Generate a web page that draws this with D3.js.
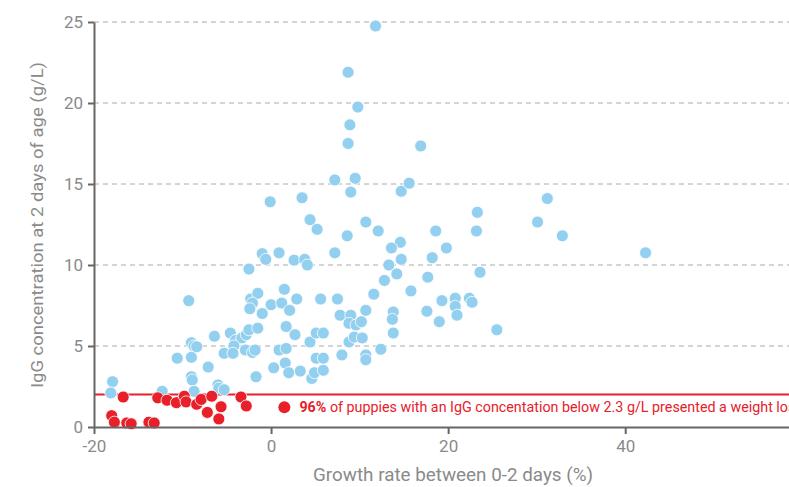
<!DOCTYPE html>
<html>
<head>
<meta charset="utf-8">
<script src="https://cdn.jsdelivr.net/npm/d3@7"></script>
<style>
  body { margin: 0; background: #fff; }
  svg { display: block; font-family: Roboto, "Noto Sans", sans-serif; }
</style>
</head>
<body>
<script>
// growth rate (%) / IgG (g/L) for puppies above the threshold
const blueGrowth = [11.8, 8.7, 9.8, 8.9, 8.7, 16.9, 7.2, 9.5, 9.0, 14.7, 15.6, -0.1, 3.5, 31.2, 4.4, 5.2, 30.1, 10.7, 12.1, 23.3,
  23.2, 18.6, 32.9, 8.6, 14.6, 13.6, 19.8, 0.9, -1.0, -0.6, 2.6, 3.8, 4.1, 7.2, 14.7, 13.3, 18.2, 42.3, 23.6, -2.5,
  14.2, 12.8, 15.8, 11.6, 17.7, -9.3, -2.3, -1.5, -2.1, -2.4, -1.0, 0.0, 1.2, 1.5, 2.1, 2.9, 5.6, 7.5, 7.8, 9.0,
  8.8, 9.6, 10.2, 10.7, 8.8, 9.4, 10.3, 8.0, 10.7, 10.7, 12.4, 13.8, 13.7, 13.8, 17.6, 19.0, 19.3, 20.8, 20.8, 21.0,
  22.4, 22.7, 25.5, -6.4, -4.6, -4.0, -3.3, -2.8, -4.2, -2.5, -1.5, 1.7, 2.7, 4.4, 5.1, 5.9, -2.9, -2.1, -1.8, -5.3,
  -4.3, -9.0, -8.7, -8.4, -9.0, -10.6, -7.1, -9.0, -8.9, -6.0, -5.9, -5.3, -8.7, -12.3, -17.9, -18.1, -1.7, 0.3, 0.9, 1.7,
  1.6, 2.0, 3.3, 4.6, 4.9, 5.9, 5.1, 5.9];
const blueIgG = [24.75, 21.9, 19.75, 18.65, 17.5, 17.35, 15.25, 15.35, 14.5, 14.55, 15.05, 13.9, 14.15, 14.1, 12.8, 12.2, 12.65, 12.65, 12.1, 13.25,
  12.1, 12.1, 11.8, 11.8, 11.4, 11.05, 11.05, 10.75, 10.7, 10.35, 10.3, 10.35, 10.0, 10.75, 10.35, 10.0, 10.45, 10.75, 9.55, 9.75,
  9.45, 9.05, 8.4, 8.2, 9.25, 7.8, 7.9, 8.25, 7.65, 7.3, 7.0, 7.55, 7.65, 8.5, 7.2, 7.9, 7.9, 7.9, 6.9, 6.9,
  6.4, 6.3, 6.5, 7.2, 5.25, 5.55, 5.5, 4.45, 4.45, 4.15, 4.8, 7.1, 6.65, 5.8, 7.15, 6.5, 7.8, 7.95, 7.45, 6.9,
  7.95, 7.7, 6.0, 5.6, 5.8, 5.35, 5.5, 5.7, 5.0, 6.0, 6.1, 6.2, 5.7, 5.25, 5.8, 5.8, 4.75, 4.6, 4.75, 4.55,
  4.55, 5.2, 5.0, 4.95, 4.3, 4.25, 3.7, 3.1, 2.9, 2.6, 2.4, 2.3, 2.2, 2.2, 2.8, 2.1, 3.1, 3.65, 4.75, 4.85,
  3.95, 3.35, 3.45, 3.0, 3.35, 3.5, 4.25, 4.25];

// puppies below the threshold
const redGrowth = [-16.7, -18.0, -17.7, -16.3, -15.8, -13.8, -13.2, -12.8, -11.75, -10.7, -9.8, -9.6, -8.4, -7.9, -7.2, -6.7, -5.65, -5.9, -3.4, -2.8];
const redIgG = [1.85, 0.7, 0.3, 0.25, 0.2, 0.3, 0.25, 1.8, 1.65, 1.5, 1.9, 1.55, 1.4, 1.7, 0.9, 1.9, 1.25, 0.5, 1.85, 1.3];

const threshold = 2;
const xTicks = [-20, 0, 20, 40];
const yTicks = [0, 5, 10, 15, 20, 25];

const w = 789;
const h = 487;

const blue = "#93cfef";
const red = "#e8202a";
const axisColor = "#666";
const labelColor = "#8a8a8a";

const xScale = d3.scaleLinear()
  .domain([-20, 58.5])
  .range([94, 789]);

const yScale = d3.scaleLinear()
  .domain([0, 25])
  .range([427, 22]);

const svg = d3.select("body")
  .append("svg")
  .attr("width", w)
  .attr("height", h);

// dashed grid
svg.append("g")
  .selectAll("line")
  .data(yTicks.filter(d => d > 0))
  .enter()
  .append("line")
  .attr("x1", xScale(-20))
  .attr("x2", w)
  .attr("y1", d => yScale(d))
  .attr("y2", d => yScale(d))
  .attr("stroke", "#aaa")
  .attr("stroke-width", 1)
  .attr("stroke-dasharray", "5,4");

// threshold line
svg.append("line")
  .attr("x1", xScale(-20))
  .attr("x2", w)
  .attr("y1", yScale(threshold))
  .attr("y2", yScale(threshold))
  .attr("stroke", red)
  .attr("stroke-width", 2);

const blueData = blueGrowth.map((g, i) => ({ g: g, v: blueIgG[i] }));
const redData = redGrowth.map((g, i) => ({ g: g, v: redIgG[i] }));

svg.append("g")
  .selectAll("circle")
  .data(blueData)
  .enter()
  .append("circle")
  .attr("cx", d => xScale(d.g))
  .attr("cy", d => yScale(d.v))
  .attr("r", 6)
  .attr("fill", blue)
  .attr("stroke", "#fff")
  .attr("stroke-width", 0.8);

svg.append("g")
  .selectAll("circle")
  .data(redData)
  .enter()
  .append("circle")
  .attr("cx", d => xScale(d.g))
  .attr("cy", d => yScale(d.v))
  .attr("r", 6)
  .attr("fill", red)
  .attr("stroke", "#fff")
  .attr("stroke-width", 0.8);

// axes
const xAxis = d3.axisBottom(xScale)
  .tickValues(xTicks)
  .tickSize(7)
  .tickSizeOuter(0)
  .tickPadding(6);

const yAxis = d3.axisLeft(yScale)
  .tickValues(yTicks)
  .tickSize(6)
  .tickSizeOuter(0)
  .tickPadding(5);

const gx = svg.append("g")
  .attr("transform", "translate(0," + yScale(0) + ")")
  .call(xAxis);

const gy = svg.append("g")
  .attr("transform", "translate(" + xScale(-20) + ",0)")
  .call(yAxis);

[gx, gy].forEach(g => {
  g.select(".domain").attr("stroke", axisColor).attr("stroke-width", 2);
  g.selectAll(".tick line").attr("stroke", axisColor).attr("stroke-width", 2);
  g.selectAll(".tick text")
    .attr("fill", labelColor)
    .style("font-size", "17px")
    .style("font-family", "Roboto, sans-serif");
});

gx.selectAll(".tick text").text(d => d < 0 ? "-" + Math.abs(d) : d);

// axis titles
svg.append("text")
  .attr("x", 453)
  .attr("y", 481)
  .attr("text-anchor", "middle")
  .attr("fill", labelColor)
  .attr("textLength", 280)
  .attr("lengthAdjust", "spacingAndGlyphs")
  .style("font-size", "18px")
  .text("Growth rate between 0-2 days (%)");

svg.append("text")
  .attr("transform", "translate(43," + 225 + ") rotate(-90)")
  .attr("text-anchor", "middle")
  .attr("fill", labelColor)
  .attr("textLength", 326)
  .attr("lengthAdjust", "spacingAndGlyphs")
  .style("font-size", "17px")
  .text("IgG concentration at 2 days of age (g/L)");

// annotation (runs off the right edge, as in the original)
svg.append("circle")
  .attr("cx", xScale(1.5))
  .attr("cy", yScale(1.22))
  .attr("r", 6)
  .attr("fill", red);

const note = svg.append("text")
  .attr("x", xScale(3.2))
  .attr("y", yScale(1.22) + 5)
  .attr("fill", red)
  .style("font-size", "14.3px");

note.append("tspan")
  .attr("font-weight", "bold")
  .text("96%");

note.append("tspan")
  .text(" of puppies with an IgG concentation below 2.3 g/L presented a weight loss");
</script>
</body>
</html>
